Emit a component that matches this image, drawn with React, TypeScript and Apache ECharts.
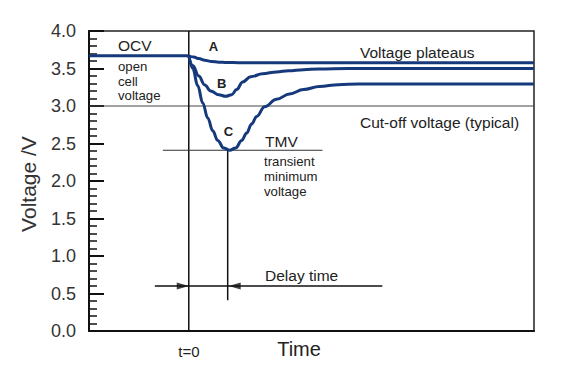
import React, { useEffect, useRef } from "react";
import * as echarts from "echarts";

// Time axis in arbitrary units, t=0 at the load step
const ocvT = [-100, 0];
const ocvV = [3.67, 3.67];

const tA = [0, 5, 10, 16, 23, 30, 38, 50, 70, 346];
const vA = [3.67, 3.652, 3.632, 3.61, 3.594, 3.585, 3.58, 3.578, 3.577, 3.577];

const tB = [0, 4, 10, 16, 22, 30, 37, 43, 48, 54, 62, 74, 88, 100, 115, 130, 160, 346];
const vB = [3.67, 3.54, 3.4, 3.28, 3.2, 3.15, 3.13, 3.15, 3.22, 3.32, 3.39, 3.43, 3.455, 3.47, 3.485, 3.495, 3.5, 3.5];

const tC = [0, 4, 9, 14, 19, 24, 29, 35, 41, 47, 53, 58, 63, 68, 76, 88, 101, 115, 131, 150, 170, 346];
const vC = [3.67, 3.5, 3.27, 3.04, 2.84, 2.67, 2.54, 2.44, 2.41, 2.44, 2.54, 2.64, 2.76, 2.86, 2.99, 3.09, 3.16, 3.22, 3.26, 3.285, 3.292, 3.292];

const cutoffV = 3.0;
const tmvV = 2.41;
const tmvT = 39;
const tmvLineT = [-26, 134];
const delayV = 0.6;
const delayLineT = [-34, 194];
const delayBottomV = 0.41;

const yTicks = [0, 0.5, 1, 1.5, 2, 2.5, 3, 3.5, 4];

const zip = (t: number[], v: number[]) => t.map((x, i) => [x, v[i]]);

const FONT = "'Liberation Sans', Arial, Helvetica, sans-serif";
const NAVY = "#15397a";
const INK = "#222";

export default function App() {
  const ref = useRef<HTMLDivElement>(null);
  useEffect(() => {
    document.body.style.margin = "0";
    if (!ref.current) return;
    const chart = echarts.init(ref.current, null, { renderer: "svg" });
    const curve = (name: string, data: number[][], smooth: number | boolean = 0.4) => ({
      name,
      type: "line",
      data,
      smooth,
      smoothMonotone: "x",
      symbol: "none",
      lineStyle: { color: NAVY, width: 3 },
      z: 5,
    });
    const plain = (data: number[][], color: string, width: number) => ({
      type: "line",
      data,
      symbol: "none",
      lineStyle: { color, width },
      z: 3,
    });
    const txt = (text: string, x: number, y: number, size = 15.5, extra: any = {}) => ({
      type: "text",
      x,
      y,
      style: {
        text,
        fontSize: size,
        fontFamily: FONT,
        fill: INK,
        textVerticalAlign: "middle",
        verticalAlign: "middle",
        ...extra,
      },
      z: 10,
    });
    chart.setOption({
      animation: false,
      grid: {
        left: 89,
        right: 36,
        top: 31,
        bottom: 42,
        show: true,
        borderColor: "#222",
        borderWidth: 1.5,
      },
      xAxis: {
        type: "value",
        min: -100,
        max: 346,
        axisLine: { show: true, onZero: false, lineStyle: { color: "#111", width: 2 } },
        axisTick: { show: false },
        axisLabel: { show: false },
        splitLine: { show: false },
      },
      yAxis: {
        type: "value",
        min: 0,
        max: 4,
        interval: 0.5,
        axisLine: { show: true, onZero: false, lineStyle: { color: "#111", width: 2 } },
        axisTick: { show: true, inside: true, length: 15, lineStyle: { color: "#111", width: 2 } },
        minorTick: { show: true, splitNumber: 5, length: 8, lineStyle: { color: "#111", width: 1.5 } },
        splitLine: { show: false },
        axisLabel: {
          formatter: (v: number) => (yTicks.includes(v) ? v.toFixed(1) : ""),
          fontSize: 18,
          fontFamily: FONT,
          color: "#333",
          margin: 13,
        },
      },
      series: [
        plain([[ocvT[0], cutoffV], [346, cutoffV]], "#444", 1),
        plain([[0, 0], [0, 4]], "#111", 1.5),
        plain([[tmvLineT[0], tmvV], [tmvLineT[1], tmvV]], "#333", 1),
        plain([[tmvT, tmvV], [tmvT, delayBottomV]], "#111", 1.5),
        plain([[delayLineT[0], delayV], [delayLineT[1], delayV]], "#111", 1.5),
        curve("OCV", zip(ocvT, ocvV), false),
        curve("A", zip(tA, vA)),
        curve("B", zip(tB, vB)),
        curve("C", zip(tC, vC)),
        {
          type: "scatter",
          data: [[0, delayV]],
          symbol: "path://M0,0L12,3.5L0,7Z",
          symbolSize: [12, 7],
          symbolOffset: [-6, 0],
          itemStyle: { color: "#111" },
          z: 6,
        },
        {
          type: "scatter",
          data: [[tmvT, delayV]],
          symbol: "path://M12,0L0,3.5L12,7Z",
          symbolSize: [12, 7],
          symbolOffset: [7, 0],
          itemStyle: { color: "#111" },
          z: 6,
        },
      ],
      graphic: [
        txt("OCV", 118, 45),
        txt("open\ncell\nvoltage", 118, 81, 13.2, { lineHeight: 14.8 }),
        txt("A", 213.5, 46, 13, { fontWeight: "bold", align: "center", textAlign: "center" }),
        txt("B", 221.7, 83.5, 13, { fontWeight: "bold", align: "center", textAlign: "center" }),
        txt("C", 228.5, 131.7, 13, { fontWeight: "bold", align: "center", textAlign: "center" }),
        txt("Voltage plateaus", 360, 52),
        txt("Cut-off voltage (typical)", 360, 122.5),
        txt("TMV", 265, 141),
        txt("transient\nminimum\nvoltage", 264, 176.5, 13.2, { lineHeight: 14.8 }),
        txt("Delay time", 265, 275),
        txt("t=0", 189, 351.5, 15, { align: "center", textAlign: "center" }),
        txt("Time", 299, 349, 20, { align: "center", textAlign: "center" }),
        {
          type: "text",
          x: 28,
          y: 184,
          rotation: Math.PI / 2,
          style: {
            text: "Voltage /V",
            fontSize: 21,
            fontFamily: FONT,
            fill: "#333",
            align: "center",
            textAlign: "center",
            verticalAlign: "middle",
            textVerticalAlign: "middle",
          },
        },
      ],
    });
    return () => chart.dispose();
  }, []);
  return <div ref={ref} style={{ width: 570, height: 373 }} />;
}
